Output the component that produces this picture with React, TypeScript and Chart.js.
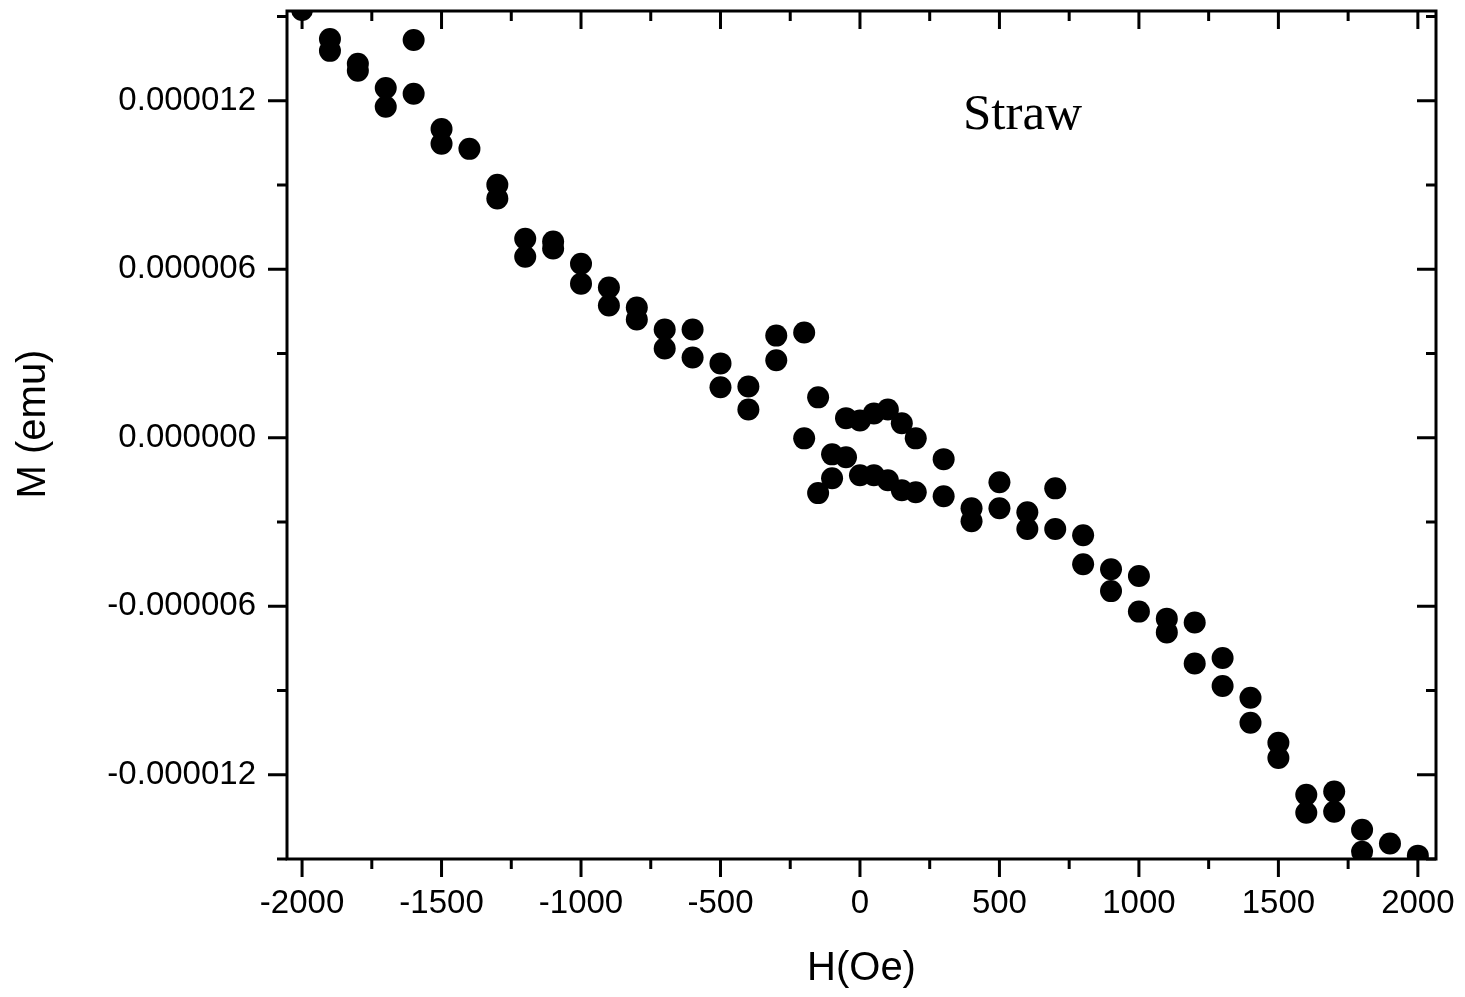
import React, { useEffect, useRef } from "react";
import { Chart, registerables } from "chart.js";

Chart.register(...registerables);

// Applied field H (Oe) and magnetic moment M (emu)
const fieldOe: number[] = [
  -2000, -1900, -1900, -1800, -1800, -1700, -1700, -1600, -1600,
  -1500, -1500, -1400, -1300, -1300, -1200, -1200, -1100, -1100,
  -1000, -1000, -900, -900, -800, -800, -700, -700, -600, -600,
  -500, -500, -400, -400, -300, -300, -200, -200, -150, -150,
  -100, -100, -50, -50, 0, 0, 50, 50, 100, 100, 150, 150, 200, 200,
  300, 300, 400, 400, 500, 500, 600, 600, 700, 700, 800, 800,
  900, 900, 1000, 1000, 1100, 1100, 1200, 1200, 1300, 1300,
  1400, 1400, 1500, 1500, 1600, 1600, 1700, 1700, 1800, 1800, 1900, 2000,
];

const momentEmu: number[] = [
  15.24e-6, 14.2e-6, 13.78e-6, 13.32e-6, 13.07e-6, 12.46e-6, 11.79e-6, 14.17e-6, 12.25e-6,
  11.0e-6, 10.47e-6, 10.29e-6, 9.01e-6, 8.52e-6, 7.09e-6, 6.45e-6, 6.99e-6, 6.74e-6,
  6.2e-6, 5.49e-6, 5.35e-6, 4.71e-6, 4.64e-6, 4.21e-6, 3.86e-6, 3.18e-6, 3.86e-6, 2.86e-6,
  2.65e-6, 1.8e-6, 1.83e-6, 1.01e-6, 3.64e-6, 2.76e-6, 3.75e-6, -0.02e-6, 1.44e-6, -1.97e-6,
  -0.59e-6, -1.44e-6, 0.7e-6, -0.69e-6, 0.62e-6, -1.33e-6, 0.87e-6, -1.33e-6, 1.01e-6, -1.51e-6,
  0.52e-6, -1.87e-6, -0.02e-6, -1.94e-6,
  -0.76e-6, -2.08e-6, -2.51e-6, -2.97e-6, -1.58e-6, -2.51e-6, -2.65e-6, -3.25e-6, -1.8e-6, -3.25e-6,
  -3.47e-6, -4.5e-6, -4.68e-6, -5.46e-6, -4.92e-6, -6.19e-6, -6.44e-6, -6.93e-6, -6.58e-6, -8.04e-6,
  -7.84e-6, -8.84e-6, -9.26e-6, -10.15e-6, -10.86e-6, -11.4e-6, -12.71e-6, -13.35e-6,
  -12.6e-6, -13.32e-6, -13.96e-6, -14.74e-6, -14.45e-6, -14.88e-6,
];

// Axis ranges and tick positions
const xRange: [number, number] = [-2054, 2065];
const yRange: [number, number] = [-15.0e-6, 15.2e-6];
const xMajorTicks: number[] = [-2000, -1500, -1000, -500, 0, 500, 1000, 1500, 2000];
const xMinorTicks: number[] = [-1750, -1250, -750, -250, 250, 750, 1250, 1750];
const yMajorTicks: number[] = [-12e-6, -6e-6, 0, 6e-6, 12e-6];
const yMinorTicks: number[] = [-15e-6, -9e-6, -3e-6, 3e-6, 9e-6, 15e-6];
const xTickLabels: string[] = ["-2000", "-1500", "-1000", "-500", "0", "500", "1000", "1500", "2000"];
const yTickLabels: string[] = ["-0.000012", "-0.000006", "0.000000", "0.000006", "0.000012"];

const xTitle = "H(Oe)";
const yTitle = "M (emu)";
const sampleLabel = "Straw";

const SANS = '"Liberation Sans", Arial, Helvetica, sans-serif';
const SERIF = '"Liberation Serif", "Times New Roman", Times, serif';

const framePlugin = {
  id: "originFrame",
  afterDatasetsDraw(chart: any) {
    const { ctx, chartArea: a, scales } = chart;
    const x = scales.x;
    const y = scales.y;
    ctx.save();
    ctx.strokeStyle = "#000";
    ctx.lineWidth = 3;
    ctx.lineCap = "butt";
    ctx.strokeRect(a.left, a.top, a.right - a.left, a.bottom - a.top);

    const drawX = (vals: number[], len: number) => {
      for (const v of vals) {
        const px = x.getPixelForValue(v);
        ctx.beginPath();
        ctx.moveTo(px, a.bottom);
        ctx.lineTo(px, a.bottom + len);
        ctx.moveTo(px, a.top);
        ctx.lineTo(px, a.top + len);
        ctx.stroke();
      }
    };
    const drawY = (vals: number[], len: number) => {
      for (const v of vals) {
        const py = y.getPixelForValue(v);
        ctx.beginPath();
        ctx.moveTo(a.left - len, py);
        ctx.lineTo(a.left, py);
        ctx.moveTo(a.right - len, py);
        ctx.lineTo(a.right, py);
        ctx.stroke();
      }
    };
    drawX(xMajorTicks, 18);
    drawX(xMinorTicks, 10);
    drawY(yMajorTicks, 19);
    drawY(yMinorTicks, 10);

    ctx.fillStyle = "#000";
    ctx.font = `40px ${SANS}`;
    ctx.textAlign = "center";
    ctx.textBaseline = "alphabetic";
    ctx.fillText(xTitle, (a.left + a.right) / 2, 980);

    ctx.save();
    ctx.translate(45, 424);
    ctx.rotate(-Math.PI / 2);
    ctx.fillText(yTitle, 0, 0);
    ctx.restore();

    ctx.font = `51px ${SERIF}`;
    ctx.textAlign = "left";
    ctx.fillText(sampleLabel, 963, 129);
    ctx.restore();
  },
};

const zeroPadding = (s: any) => {
  s.paddingTop = 0;
  s.paddingBottom = 0;
  s.paddingLeft = 0;
  s.paddingRight = 0;
};

export default function App() {
  const canvasRef = useRef<HTMLCanvasElement | null>(null);

  useEffect(() => {
    const canvas = canvasRef.current;
    if (!canvas) return;
    const points = fieldOe.map((h, i) => ({ x: h, y: momentEmu[i] }));
    const chart = new Chart(canvas, {
      type: "scatter",
      data: {
        datasets: [
          {
            label: sampleLabel,
            data: points,
            backgroundColor: "#000",
            borderColor: "#000",
            pointRadius: 11,
            pointBorderWidth: 0,
            pointHoverRadius: 11,
            clip: 0,
          } as any,
        ],
      },
      options: {
        responsive: false,
        animation: false,
        events: [],
        layout: { padding: { top: 10, right: 29, bottom: 0, left: 0 } },
        plugins: {
          legend: { display: false },
          tooltip: { enabled: false },
          title: { display: false },
        },
        scales: {
          x: {
            type: "linear",
            min: xRange[0],
            max: xRange[1],
            grid: { display: false, drawTicks: false },
            border: { display: false },
            afterBuildTicks: (s: any) => {
              s.ticks = xMajorTicks.map((v) => ({ value: v }));
            },
            afterFit: (s: any) => {
              s.height = 138;
              zeroPadding(s);
            },
            ticks: {
              autoSkip: false,
              maxRotation: 0,
              padding: 25,
              color: "#000",
              font: { family: SANS, size: 33 },
              callback: (_v: any, i: number) => xTickLabels[i],
            },
          },
          y: {
            type: "linear",
            min: yRange[0],
            max: yRange[1],
            grid: { display: false, drawTicks: false },
            border: { display: false },
            afterBuildTicks: (s: any) => {
              s.ticks = yMajorTicks.map((v) => ({ value: v }));
            },
            afterFit: (s: any) => {
              s.width = 287;
              zeroPadding(s);
            },
            ticks: {
              autoSkip: false,
              padding: 31,
              color: "#000",
              font: { family: SANS, size: 33 },
              callback: (_v: any, i: number) => yTickLabels[i],
            },
          },
        },
      },
      plugins: [framePlugin],
    });
    return () => chart.destroy();
  }, []);

  return (
    <div style={{ position: "fixed", left: 0, top: 0, width: 1465, height: 997, background: "#fff" }}>
      <canvas ref={canvasRef} width={1465} height={997} style={{ display: "block" }} />
    </div>
  );
}
